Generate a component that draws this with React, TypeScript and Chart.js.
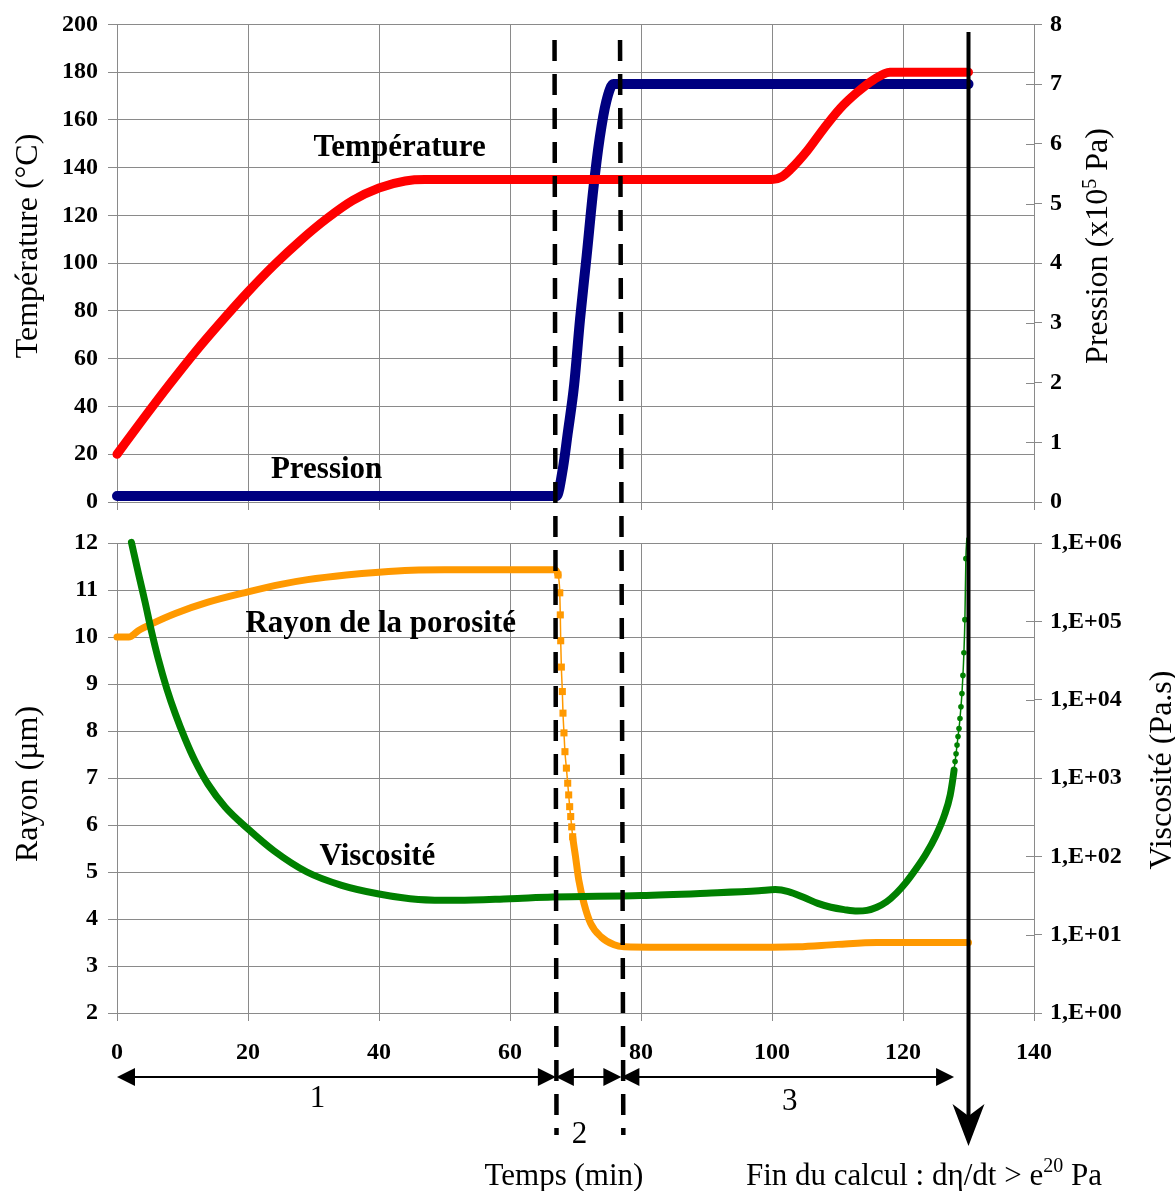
import React, { useEffect, useRef } from 'react';
import { Chart, registerables } from 'chart.js';

Chart.register(...registerables);

// ---------------- Data (time in minutes) ----------------
const X_MIN = 0;
const X_MAX = 140;
const X_STEP = 20;

const TEMP_TIME = [0, 4, 8, 12, 16, 20, 24, 28, 32, 36, 40, 44, 47, 100, 101.5, 102.8, 105.3, 107.8, 110.4, 112.9, 115.5, 118, 130];
const TEMP_VALUES = [20, 34.8, 49.2, 63.0, 75.8, 88.0, 99.3, 109.5, 118.6, 126.3, 131.5, 134.4, 135, 135, 136.2, 139.2, 146.8, 156.0, 164.8, 171.3, 176.8, 180, 180];

const PRESS_TIME = [0, 67.1, 68.1, 68.8, 69.8, 70.7, 71.7, 72.7, 73.7, 74.7, 75.8, 130];
const PRESS_VALUES = [0.1, 0.1, 0.58, 1.14, 1.97, 3.07, 4.12, 5.22, 6.1, 6.71, 7.0, 7.0];

const RAYON_TIME = [0, 1.8, 3.3, 5.3, 8.9, 13.9, 20, 25, 29.1, 35, 40, 45, 50, 66.8, 67.33, 67.6, 67.68, 67.74, 67.84, 67.99, 68.09, 68.24, 68.39, 68.61, 68.81, 68.96, 69.11, 69.27, 69.42, 69.57, 70.0, 70.5, 71.3, 72.3, 73.9, 75.9, 77.4, 83, 100, 104, 110, 116, 130];
const RAYON_VALUES = [10.0, 10.0, 10.14, 10.28, 10.5, 10.74, 10.96, 11.12, 11.22, 11.32, 11.38, 11.42, 11.43, 11.43, 11.32, 10.94, 10.47, 9.92, 9.36, 8.84, 8.38, 7.96, 7.56, 7.21, 6.89, 6.64, 6.39, 6.18, 5.96, 5.75, 5.33, 4.83, 4.33, 3.91, 3.62, 3.45, 3.41, 3.40, 3.40, 3.41, 3.46, 3.5, 3.5];

const VISC_TIME = [2.2, 3.3, 4.3, 5.3, 6.3, 7.6, 8.9, 10.4, 11.9, 13.9, 16.5, 20, 24, 29, 34.3, 40, 46, 52, 60, 66.5, 80, 90, 98, 100.5, 102.5, 105, 107, 109, 111, 113, 114.5, 116, 117.5, 119, 120.5, 122, 123.5, 125, 126.3, 127.2, 127.8, 127.95, 128.1, 128.25, 128.4, 128.55, 128.7, 128.85, 129.0, 129.15, 129.3, 129.45, 129.6, 129.75];
const VISC_VALUES = [1.02e6, 4.0e5, 1.74e5, 7.24e4, 3.31e4, 1.38e4, 6.61e3, 3.16e3, 1.66e3, 832, 427, 224, 117, 63.1, 42.7, 33.1, 28.2, 27.5, 28.8, 30.2, 31.6, 33.9, 36.3, 37.6, 35.5, 29.5, 25.1, 22.4, 20.9, 20.0, 20.4, 22.4, 26.3, 33.9, 46.8, 69.2, 107, 182, 331, 603, 1.26e3, 1.62e3, 2.04e3, 2.63e3, 3.39e3, 4.27e3, 5.75e3, 8.13e3, 1.2e4, 2.04e4, 3.98e4, 1.05e5, 6.31e5, 1.15e6];

const VISC_TICKS = [1, 10, 100, 1000, 10000, 100000, 1000000];
const VISC_TICK_LABELS = ['1,E+00', '1,E+01', '1,E+02', '1,E+03', '1,E+04', '1,E+05', '1,E+06'];

// time ranges where the solver's individual markers are visible (sparse points)
const RAYON_MARKER_RANGE = [67.3, 69.6];
const VISC_MARKER_RANGE = [127.75, 130];

// phases / annotations (time values)
const PHASE_LINES = [
  { top: 66.8, bottom: 67.1 },
  { top: 76.8, bottom: 77.3 },
];
const PHASES = [
  { from: 0, to: 67, label: '1', labelX: 30.6, labelY: 1099 },
  { from: 67, to: 77, label: '2', labelX: 70.6, labelY: 1135 },
  { from: 77, to: 127.8, label: '3', labelX: 102.7, labelY: 1102 },
];
const END_TIME = 130;

const TOP_SERIES_LABELS = [
  { text: 'Température', x: 30.0, y: 145, axis: 'yT' },
  { text: 'Pression', x: 23.5, y: 0.4, axis: 'yP' },
];
const BOTTOM_SERIES_LABELS = [
  { text: 'Rayon de la porosité', x: 19.6, y: 10.11, axis: 'yR' },
  { text: 'Viscosité', x: 30.9, y: 78, axis: 'yV' },
];

// ---------------- Layout / style ----------------
const W = 1175;
const H = 1191;
const AREA_LEFT = 117;
const AREA_RIGHT = 1034;
const TOP_AREA_TOP = 19;
const TOP_AREA_BOTTOM = 502;
const BOT_AREA_TOP = 543;
const BOT_AREA_BOTTOM = 1013;
const TOP_X_H = 10;
const BOT_X_H = 60;

const SERIF = '"Liberation Serif", "Times New Roman", Times, serif';
const GRID = '#8a8a8a';
const TICK_FONT = { family: SERIF, size: 24, weight: 'bold' as const };
const LABEL_FONT = `bold 31px ${SERIF}`;
const TITLE_FONT = `32px ${SERIF}`;
const TITLE_SUP_FONT = `20px ${SERIF}`;
const NOTE_FONT = `31px ${SERIF}`;
const NOTE_SUP_FONT = `20px ${SERIF}`;

const zip = (xs: number[], ys: number[]) => xs.map((x, i) => ({ x, y: ys[i] }));
const inRange = (v: number, r: number[]) => v >= r[0] - 1e-9 && v <= r[1] + 1e-9;

type Part = { text: string; font: string; rise?: number };

function drawRich(ctx: CanvasRenderingContext2D, parts: Part[], x: number, y: number, rotate: boolean, align: 'center' | 'left' = 'center') {
  ctx.save();
  ctx.translate(x, y);
  if (rotate) ctx.rotate(-Math.PI / 2);
  let total = 0;
  for (const p of parts) {
    ctx.font = p.font;
    total += ctx.measureText(p.text).width;
  }
  let cx = align === 'center' ? -total / 2 : 0;
  ctx.textBaseline = 'alphabetic';
  ctx.textAlign = 'left';
  ctx.fillStyle = '#000';
  for (const p of parts) {
    ctx.font = p.font;
    ctx.fillText(p.text, cx, p.rise ? -p.rise : 0);
    cx += ctx.measureText(p.text).width;
  }
  ctx.restore();
}

function innerTicks(chart: any, id: string) {
  const s = chart.scales[id];
  const ctx = chart.ctx as CanvasRenderingContext2D;
  ctx.save();
  ctx.strokeStyle = GRID;
  ctx.lineWidth = 1;
  for (const t of s.ticks) {
    const y = Math.round(s.getPixelForValue(t.value)) + 0.5;
    ctx.beginPath();
    ctx.moveTo(s.left - 8, y);
    ctx.lineTo(s.left, y);
    ctx.stroke();
  }
  ctx.restore();
}

function seriesLabels(chart: any, labels: { text: string; x: number; y: number; axis: string }[]) {
  const ctx = chart.ctx as CanvasRenderingContext2D;
  ctx.save();
  ctx.font = LABEL_FONT;
  ctx.fillStyle = '#000';
  ctx.textAlign = 'left';
  ctx.textBaseline = 'alphabetic';
  for (const l of labels) {
    ctx.fillText(l.text, chart.scales.x.getPixelForValue(l.x), chart.scales[l.axis].getPixelForValue(l.y));
  }
  ctx.restore();
}

function arrowHead(ctx: CanvasRenderingContext2D, tipX: number, y: number, dir: number) {
  ctx.beginPath();
  ctx.moveTo(tipX, y);
  ctx.lineTo(tipX - dir * 18, y - 9);
  ctx.lineTo(tipX - dir * 18, y + 9);
  ctx.closePath();
  ctx.fill();
}

const topPlugin = {
  id: 'topExtras',
  afterDraw(chart: any) {
    innerTicks(chart, 'yP');
    seriesLabels(chart, TOP_SERIES_LABELS);
    const ctx = chart.ctx as CanvasRenderingContext2D;
    drawRich(ctx, [{ text: 'Température (°C)', font: TITLE_FONT }], 37, 246, true);
    drawRich(
      ctx,
      [
        { text: 'Pression (x10', font: TITLE_FONT },
        { text: '5', font: TITLE_SUP_FONT, rise: 11 },
        { text: ' Pa)', font: TITLE_FONT },
      ],
      1107,
      246,
      true
    );
  },
};

const bottomPlugin = {
  id: 'bottomExtras',
  afterDraw(chart: any) {
    innerTicks(chart, 'yV');
    seriesLabels(chart, BOTTOM_SERIES_LABELS);
    const ctx = chart.ctx as CanvasRenderingContext2D;
    drawRich(ctx, [{ text: 'Rayon (µm)', font: TITLE_FONT }], 37, 784, true);
    drawRich(ctx, [{ text: 'Viscosité (Pa.s)', font: TITLE_FONT }], 1171, 770, true);

    const sx = (v: number) => chart.scales.x.getPixelForValue(v);
    ctx.save();
    ctx.strokeStyle = '#000';
    ctx.fillStyle = '#000';
    // phase boundary dashed lines
    ctx.lineWidth = 4.5;
    ctx.setLineDash([21, 13]);
    for (const b of PHASE_LINES) {
      ctx.beginPath();
      ctx.moveTo(sx(b.top), 40);
      ctx.lineTo(sx(b.bottom), 1135);
      ctx.stroke();
    }
    ctx.setLineDash([]);
    // end of calculation arrow
    const ax = sx(END_TIME);
    ctx.lineWidth = 4;
    ctx.beginPath();
    ctx.moveTo(ax, 32);
    ctx.lineTo(ax, 1120);
    ctx.stroke();
    ctx.beginPath();
    ctx.moveTo(ax, 1146);
    ctx.lineTo(ax - 16, 1104);
    ctx.lineTo(ax, 1116);
    ctx.lineTo(ax + 16, 1104);
    ctx.closePath();
    ctx.fill();
    // phase arrows
    const ay = 1077;
    ctx.lineWidth = 2;
    ctx.font = NOTE_FONT;
    ctx.textAlign = 'center';
    ctx.textBaseline = 'middle';
    for (const p of PHASES) {
      const x0 = sx(p.from);
      const x1 = sx(p.to);
      ctx.beginPath();
      ctx.moveTo(x0 + 10, ay);
      ctx.lineTo(x1 - 10, ay);
      ctx.stroke();
      arrowHead(ctx, x0, ay, -1);
      arrowHead(ctx, x1, ay, 1);
      ctx.fillText(p.label, sx(p.labelX), p.labelY);
    }
    ctx.restore();
    drawRich(ctx, [{ text: 'Temps (min)', font: NOTE_FONT }], 564, 1185, false);
    drawRich(
      ctx,
      [
        { text: 'Fin du calcul : dη/dt > e', font: NOTE_FONT },
        { text: '20', font: NOTE_SUP_FONT, rise: 13 },
        { text: ' Pa', font: NOTE_FONT },
      ],
      746,
      1185,
      false,
      'left'
    );
  },
};

const commonX = (showLabels: boolean, height: number) => ({
  type: 'linear' as const,
  min: X_MIN,
  max: X_MAX,
  ticks: { stepSize: X_STEP, display: showLabels, font: TICK_FONT, color: '#000', padding: 17, maxRotation: 0 },
  grid: { color: GRID, lineWidth: 1, tickLength: 8 },
  border: { color: GRID },
  afterFit: (s: any) => {
    s.height = height;
  },
});

function topConfig(): any {
  return {
    type: 'line',
    data: {
      datasets: [
        {
          label: 'Température',
          data: zip(TEMP_TIME, TEMP_VALUES),
          yAxisID: 'yT',
          borderColor: '#FF0000',
          backgroundColor: '#FF0000',
          borderWidth: 9,
          pointRadius: 0,
          cubicInterpolationMode: 'monotone',
          borderCapStyle: 'round',
          borderJoinStyle: 'round',
          clip: false,
        },
        {
          label: 'Pression',
          data: zip(PRESS_TIME, PRESS_VALUES),
          yAxisID: 'yP',
          borderColor: '#000080',
          backgroundColor: '#000080',
          borderWidth: 10,
          pointRadius: 0,
          cubicInterpolationMode: 'monotone',
          borderCapStyle: 'round',
          borderJoinStyle: 'round',
          clip: false,
        },
      ],
    },
    options: {
      responsive: false,
      animation: false,
      events: [],
      layout: { padding: { left: 0, right: 0, top: TOP_AREA_TOP, bottom: H - TOP_AREA_BOTTOM - TOP_X_H } },
      plugins: { legend: { display: false }, tooltip: { enabled: false } },
      scales: {
        x: commonX(false, TOP_X_H),
        yT: {
          type: 'linear',
          position: 'left',
          min: 0,
          max: 200,
          ticks: { stepSize: 20, font: TICK_FONT, color: '#000', padding: 10 },
          grid: { color: GRID, lineWidth: 1, tickLength: 9 },
          border: { color: GRID },
          afterFit: (s: any) => {
            s.width = AREA_LEFT;
          },
        },
        yP: {
          type: 'linear',
          position: 'right',
          min: 0,
          max: 8,
          ticks: { stepSize: 1, font: TICK_FONT, color: '#000', padding: 8 },
          grid: { drawOnChartArea: false, color: GRID, lineWidth: 1, tickLength: 8 },
          border: { color: GRID },
          afterFit: (s: any) => {
            s.width = W - AREA_RIGHT;
          },
        },
      },
    },
    plugins: [topPlugin],
  };
}

function bottomConfig(): any {
  return {
    type: 'line',
    data: {
      datasets: [
        {
          label: 'Viscosité',
          data: zip(VISC_TIME, VISC_VALUES),
          yAxisID: 'yV',
          borderColor: '#008000',
          backgroundColor: '#008000',
          borderWidth: 7,
          pointStyle: 'circle',
          pointRadius: (c: any) => (c.dataIndex !== undefined && inRange(VISC_TIME[c.dataIndex], VISC_MARKER_RANGE) ? 2.8 : 0),
          pointBorderWidth: 0,
          pointBackgroundColor: '#008000',
          cubicInterpolationMode: 'monotone',
          borderCapStyle: 'round',
          borderJoinStyle: 'round',
          segment: {
            borderWidth: (c: any) =>
              inRange(VISC_TIME[c.p0DataIndex], VISC_MARKER_RANGE) && inRange(VISC_TIME[c.p1DataIndex], VISC_MARKER_RANGE) ? 1.5 : 7,
          },
          clip: false,
        },
        {
          label: 'Rayon de la porosité',
          data: zip(RAYON_TIME, RAYON_VALUES),
          yAxisID: 'yR',
          borderColor: '#FF9900',
          backgroundColor: '#FF9900',
          borderWidth: 7,
          pointStyle: 'rect',
          pointRadius: (c: any) => (c.dataIndex !== undefined && inRange(RAYON_TIME[c.dataIndex], RAYON_MARKER_RANGE) ? 5 : 0),
          pointBorderWidth: 0,
          pointBackgroundColor: '#FF9900',
          cubicInterpolationMode: 'monotone',
          borderCapStyle: 'round',
          borderJoinStyle: 'round',
          segment: {
            borderWidth: (c: any) =>
              inRange(RAYON_TIME[c.p0DataIndex], RAYON_MARKER_RANGE) && inRange(RAYON_TIME[c.p1DataIndex], RAYON_MARKER_RANGE) ? 1.5 : 7,
          },
          clip: false,
        },
      ],
    },
    options: {
      responsive: false,
      animation: false,
      events: [],
      layout: { padding: { left: 0, right: 0, top: BOT_AREA_TOP, bottom: H - BOT_AREA_BOTTOM - BOT_X_H } },
      plugins: { legend: { display: false }, tooltip: { enabled: false } },
      scales: {
        x: commonX(true, BOT_X_H),
        yR: {
          type: 'linear',
          position: 'left',
          min: 2,
          max: 12,
          ticks: { stepSize: 1, font: TICK_FONT, color: '#000', padding: 10 },
          grid: { color: GRID, lineWidth: 1, tickLength: 9 },
          border: { color: GRID },
          afterFit: (s: any) => {
            s.width = AREA_LEFT;
          },
        },
        yV: {
          type: 'logarithmic',
          position: 'right',
          min: 1,
          max: 1e6,
          afterBuildTicks: (s: any) => {
            s.ticks = VISC_TICKS.map((v) => ({ value: v }));
          },
          ticks: {
            font: TICK_FONT,
            color: '#000',
            padding: 8,
            callback: (_v: any, i: number) => VISC_TICK_LABELS[i],
          },
          grid: { drawOnChartArea: false, color: GRID, lineWidth: 1, tickLength: 8 },
          border: { color: GRID },
          afterFit: (s: any) => {
            s.width = W - AREA_RIGHT;
          },
        },
      },
    },
    plugins: [bottomPlugin],
  };
}

export default function App() {
  const topRef = useRef<HTMLCanvasElement>(null);
  const botRef = useRef<HTMLCanvasElement>(null);
  useEffect(() => {
    const top = new Chart(topRef.current as HTMLCanvasElement, topConfig());
    const bot = new Chart(botRef.current as HTMLCanvasElement, bottomConfig());
    return () => {
      top.destroy();
      bot.destroy();
    };
  }, []);
  return (
    <div style={{ position: 'absolute', left: 0, top: 0, width: W, height: H, background: '#fff', overflow: 'hidden' }}>
      <canvas ref={topRef} width={W} height={H} style={{ position: 'absolute', left: 0, top: 0 }} />
      <canvas ref={botRef} width={W} height={H} style={{ position: 'absolute', left: 0, top: 0 }} />
    </div>
  );
}
